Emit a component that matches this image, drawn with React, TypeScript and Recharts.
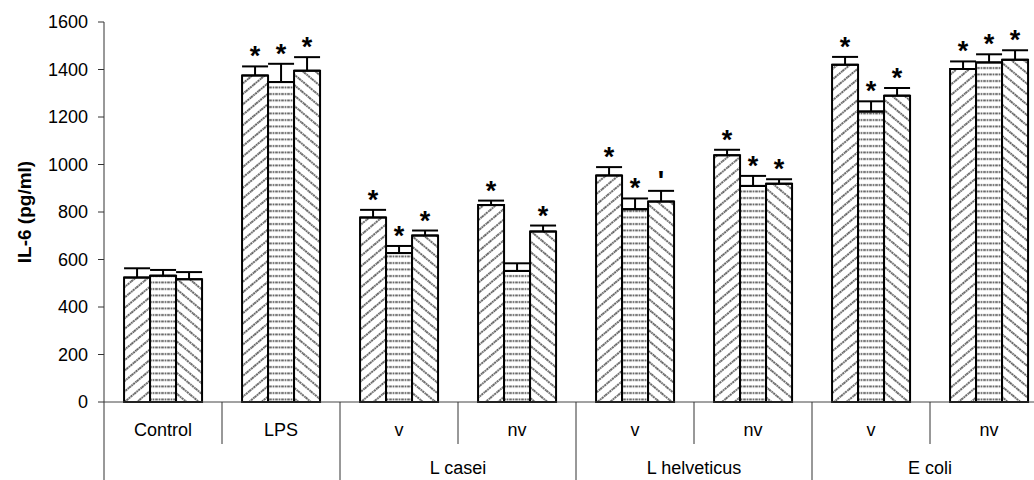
import React from "react";
import { BarChart, Bar, XAxis, YAxis, ErrorBar, LabelList } from "recharts";

// category labels on the first row of the x axis
const categories = ["Control", "LPS", "v", "nv", "v", "nv", "v", "nv"];
// group labels on the second row, placed at the start index of each group
const groupLabels = ["", "", "L casei", "", "L helveticus", "", "E coli", ""];

// IL-6 means (pg/ml) for the three bars in each category
const series1 = [524, 1375, 777, 829, 954, 1039, 1420, 1402];
const series2 = [532, 1347, 627, 552, 812, 910, 1223, 1430];
const series3 = [517, 1395, 701, 718, 844, 919, 1290, 1441];

// upper error (SE) for each bar
const err1 = [39, 38, 32, 19, 35, 23, 33, 32];
const err2 = [24, 77, 30, 32, 45, 42, 43, 34];
const err3 = [30, 57, 21, 25, 45, 19, 32, 40];

// significance marks above each bar
const marks1 = ["", "*", "*", "*", "*", "*", "*", "*"];
const marks2 = ["", "*", "*", "", "*", "*", "*", "*"];
const marks3 = ["", "*", "*", "*", "'", "*", "*", "*"];

const yTicks = [0, 200, 400, 600, 800, 1000, 1200, 1400, 1600];

const data = categories.map((name, i) => ({
  name,
  s1: series1[i],
  s2: series2[i],
  s3: series3[i],
  e1: [0, err1[i]],
  e2: [0, err2[i]],
  e3: [0, err3[i]],
}));

const PLOT_LEFT = 104;
const PLOT_WIDTH = 944;
const PLOT_BOTTOM = 402;
const CAT_W = PLOT_WIDTH / categories.length;
const FONT = "'Liberation Sans', Arial, sans-serif";

function CategoryTick(props: any) {
  const { x, payload } = props;
  const i = payload.index;
  const cx = payload.coordinate ?? x;
  const left = cx - CAT_W / 2;
  const long = i % 2 === 0;
  return (
    <g>
      <line x1={left} x2={left} y1={PLOT_BOTTOM} y2={long ? 480 : 444} stroke="#333" strokeWidth={1} />
      <text x={cx} y={436} textAnchor="middle" fontSize={18} fontFamily={FONT} fill="#000">
        {payload.value}
      </text>
      {groupLabels[i] ? (
        <text x={cx + CAT_W / 2} y={474} textAnchor="middle" fontSize={18} fontFamily={FONT} fill="#000">
          {groupLabels[i]}
        </text>
      ) : null}
    </g>
  );
}

function makeMark(errs: number[], marks: string[]) {
  return (props: any) => {
    const vb = props.viewBox ?? props;
    const { x, y, width, height } = vb;
    const i = props.index;
    const m = marks[i];
    if (!m) return null;
    const val = props.value;
    const pxPerUnit = val ? height / val : 0;
    const capY = y - errs[i] * pxPerUnit;
    return (
      <text
        x={x + width / 2}
        y={capY - 1}
        textAnchor="middle"
        fontSize={27}
        fontWeight="bold"
        fontFamily={FONT}
        fill="#000"
      >
        {m}
      </text>
    );
  };
}

export default function App() {
  return (
    <div
      style={{
        position: "fixed",
        left: 0,
        top: 0,
        width: 1034,
        height: 480,
        overflow: "hidden",
        background: "#fff",
        fontFamily: FONT,
      }}
    >
      <BarChart
        width={PLOT_LEFT + PLOT_WIDTH + 2}
        height={480}
        data={data}
        margin={{ top: 22, right: 2, left: 10, bottom: 0 }}
        barCategoryGap="17%"
        barGap={0}
      >
        <defs>
          <pattern id="hatchUp" patternUnits="userSpaceOnUse" width="10" height="8" patternTransform="rotate(-40)">
            <rect width="10" height="8" fill="#fff" />
            <line x1="0" y1="4" x2="10" y2="4" stroke="#5e5e5e" strokeWidth="1.8" strokeDasharray="1.8 0.8" />
          </pattern>
          <pattern id="hatchFlat" patternUnits="userSpaceOnUse" width="6" height="6.5">
            <rect width="6" height="6.5" fill="#fff" />
            <line x1="0" y1="3" x2="6" y2="3" stroke="#5e5e5e" strokeWidth="1.9" strokeDasharray="1.8 0.8" />
          </pattern>
          <pattern id="hatchDown" patternUnits="userSpaceOnUse" width="10" height="8" patternTransform="rotate(40)">
            <rect width="10" height="8" fill="#fff" />
            <line x1="0" y1="4" x2="10" y2="4" stroke="#5e5e5e" strokeWidth="1.8" strokeDasharray="1.8 0.8" />
          </pattern>
        </defs>
        <XAxis
          dataKey="name"
          height={78}
          interval={0}
          tickLine={false}
          axisLine={{ stroke: "#444", strokeWidth: 1 }}
          tick={<CategoryTick />}
        />
        <YAxis
          width={94}
          domain={[0, 1600]}
          ticks={yTicks}
          interval={0}
          tickSize={6}
          tickMargin={10}
          axisLine={{ stroke: "#333", strokeWidth: 1 }}
          tickLine={{ stroke: "#333", strokeWidth: 1 }}
          tick={{ fill: "#000", fontSize: 18, fontFamily: FONT }}
          label={{
            value: "IL-6 (pg/ml)",
            angle: -90,
            position: "center",
            dx: -33,
            style: { fontSize: 19, fontWeight: "bold", fill: "#000", fontFamily: FONT },
          }}
        />
        <Bar dataKey="s1" fill="url(#hatchUp)" stroke="#000" strokeWidth={2} isAnimationActive={false}>
          <ErrorBar dataKey="e1" direction="y" width={13} stroke="#000" strokeWidth={2} />
          <LabelList dataKey="s1" content={makeMark(err1, marks1)} />
        </Bar>
        <Bar dataKey="s2" fill="url(#hatchFlat)" stroke="#000" strokeWidth={2} isAnimationActive={false}>
          <ErrorBar dataKey="e2" direction="y" width={13} stroke="#000" strokeWidth={2} />
          <LabelList dataKey="s2" content={makeMark(err2, marks2)} />
        </Bar>
        <Bar dataKey="s3" fill="url(#hatchDown)" stroke="#000" strokeWidth={2} isAnimationActive={false}>
          <ErrorBar dataKey="e3" direction="y" width={13} stroke="#000" strokeWidth={2} />
          <LabelList dataKey="s3" content={makeMark(err3, marks3)} />
        </Bar>
      </BarChart>
    </div>
  );
}
